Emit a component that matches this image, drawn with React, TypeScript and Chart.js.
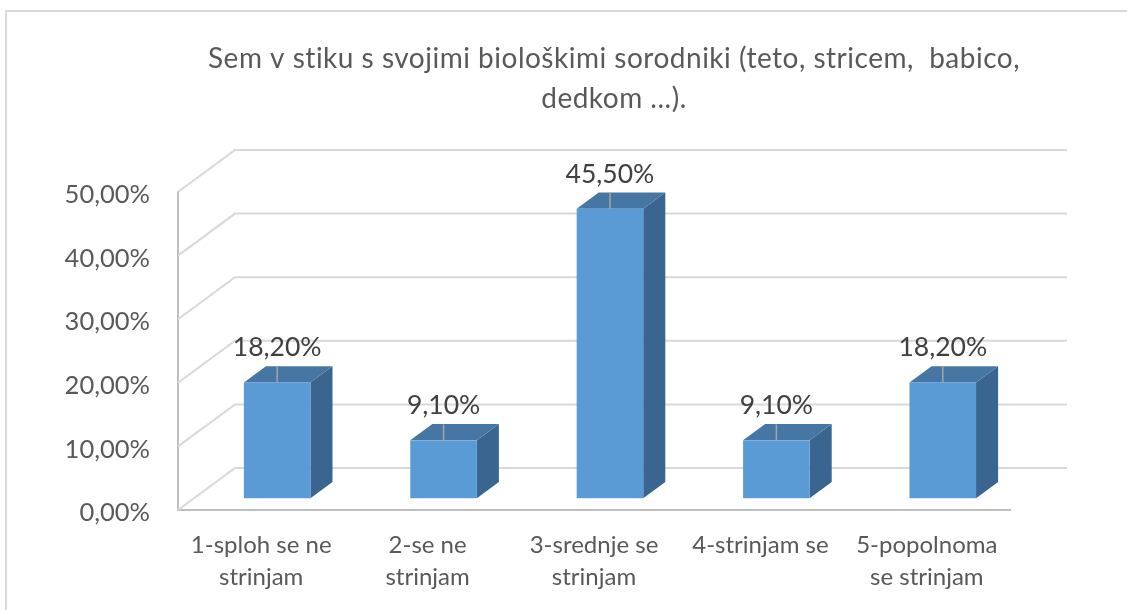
import { useEffect, useRef } from 'react';
import { Chart, registerables } from 'chart.js';

Chart.register(...registerables);

const TITLE_LINES = [
  'Sem v stiku s svojimi biološkimi sorodniki (teto, stricem,  babico,',
  'dedkom ...).',
];
const CATEGORIES: string[][] = [
  ['1-sploh se ne', 'strinjam'],
  ['2-se ne', 'strinjam'],
  ['3-srednje se', 'strinjam'],
  ['4-strinjam se'],
  ['5-popolnoma', 'se strinjam'],
];
const VALUES = [18.2, 9.1, 45.5, 9.1, 18.2];
const Y_MIN = 0;
const Y_MAX = 50;
const Y_STEP = 10;

// style constants
const FONT = 'Lato, "Open Sans", sans-serif';
const DEPTH_X = 57;
const DEPTH_Y = 42;
const BAR_FRONT = 0.28;
const BAR_BACK = 0.667;
const FRONT_COLOR = '#5b9bd5';
const TOP_COLOR = '#4676a4';
const SIDE_COLOR = '#3a6590';
const GRID_COLOR = '#d9d9d9';
const AXIS_COLOR = '#bfbfbf';
const TEXT_COLOR = '#595959';
const LABEL_COLOR = '#404040';

const fmt = (v: number) => v.toFixed(2).replace('.', ',') + '%';

const depthPlugin = {
  id: 'depth3d',
  beforeDraw(chart: any) {
    const { ctx, width, height } = chart;
    ctx.save();
    ctx.fillStyle = '#ffffff';
    ctx.fillRect(0, 0, width, height);
    // outer chart border
    ctx.strokeStyle = GRID_COLOR;
    ctx.lineWidth = 2;
    ctx.beginPath();
    ctx.moveTo(6, height + 2);
    ctx.lineTo(6, 11);
    ctx.lineTo(width + 2, 11);
    ctx.stroke();
    // title
    ctx.fillStyle = TEXT_COLOR;
    ctx.font = `28px ${FONT}`;
    try {
      (ctx as any).letterSpacing = '0.5px';
    } catch (e) {}
    ctx.textAlign = 'center';
    ctx.textBaseline = 'alphabetic';
    TITLE_LINES.forEach((line, i) => {
      ctx.fillText(line, 614, 68 + i * 40);
    });
    ctx.restore();
  },
  beforeDatasetsDraw(chart: any) {
    const { ctx, chartArea: a, scales } = chart;
    const ys = scales.y;
    ctx.save();
    ctx.strokeStyle = GRID_COLOR;
    ctx.lineWidth = 2;
    ys.ticks.forEach((t: any) => {
      const py = ys.getPixelForValue(t.value);
      ctx.beginPath();
      ctx.moveTo(a.left, py);
      ctx.lineTo(a.left + DEPTH_X, py - DEPTH_Y);
      ctx.lineTo(a.right + DEPTH_X, py - DEPTH_Y);
      ctx.stroke();
    });
    ctx.restore();
  },
  afterDatasetsDraw(chart: any) {
    const { ctx, scales } = chart;
    const ys = scales.y;
    const meta = chart.getDatasetMeta(0);
    const data = chart.data.datasets[0].data as number[];
    const bd = BAR_BACK - BAR_FRONT;
    const bdx = DEPTH_X * bd;
    const bdy = DEPTH_Y * bd;
    ctx.save();
    meta.data.forEach((el: any, i: number) => {
      const { x: cx, width: w } = el.getProps(['x', 'width'], true);
      const v = data[i];
      const yTop = ys.getPixelForValue(v) - DEPTH_Y * BAR_FRONT;
      const yBase = ys.getPixelForValue(0) - DEPTH_Y * BAR_FRONT;
      const fx = cx - w / 2 + DEPTH_X * BAR_FRONT;
      // side face
      ctx.fillStyle = SIDE_COLOR;
      ctx.beginPath();
      ctx.moveTo(fx + w, yTop);
      ctx.lineTo(fx + w + bdx, yTop - bdy);
      ctx.lineTo(fx + w + bdx, yBase - bdy);
      ctx.lineTo(fx + w, yBase);
      ctx.closePath();
      ctx.fill();
      // top face
      ctx.fillStyle = TOP_COLOR;
      ctx.beginPath();
      ctx.moveTo(fx, yTop);
      ctx.lineTo(fx + bdx, yTop - bdy);
      ctx.lineTo(fx + w + bdx, yTop - bdy);
      ctx.lineTo(fx + w, yTop);
      ctx.closePath();
      ctx.fill();
      // front face
      ctx.fillStyle = FRONT_COLOR;
      ctx.fillRect(fx, yTop, w, yBase - yTop);
      // leader line
      const lx = fx + w / 2;
      ctx.strokeStyle = '#a6a6a6';
      ctx.lineWidth = 1.5;
      ctx.beginPath();
      ctx.moveTo(lx, yTop - 16);
      ctx.lineTo(lx, yTop);
      ctx.stroke();
      // data label
      ctx.fillStyle = LABEL_COLOR;
      ctx.font = `26.5px ${FONT}`;
      ctx.textAlign = 'center';
      ctx.textBaseline = 'alphabetic';
      ctx.fillText(fmt(v), lx, yTop - 26);
    });
    ctx.restore();
  },
};

export default function App() {
  const ref = useRef<HTMLCanvasElement | null>(null);
  useEffect(() => {
    if (!ref.current) return;
    const chart = new Chart(ref.current, {
      type: 'bar',
      data: {
        labels: CATEGORIES,
        datasets: [
          {
            data: VALUES,
            backgroundColor: 'rgba(0,0,0,0)',
            borderWidth: 0,
            barPercentage: 0.4,
            categoryPercentage: 1,
          },
        ],
      },
      options: {
        responsive: false,
        animation: false,
        events: [],
        layout: { padding: { top: 192, left: 0, right: 117, bottom: 0 } },
        plugins: { legend: { display: false }, tooltip: { enabled: false }, title: { display: false } },
        scales: {
          x: {
            grid: { display: false, drawTicks: false },
            border: { display: true, color: AXIS_COLOR, width: 2 },
            ticks: {
              color: TEXT_COLOR,
              font: { family: FONT, size: 24, lineHeight: 1.3 },
              padding: 20,
              maxRotation: 0,
              autoSkip: false,
            },
            afterFit: (s: any) => {
              s.height = 100;
            },
          },
          y: {
            min: Y_MIN,
            max: Y_MAX,
            grid: { display: false, drawTicks: false },
            border: { display: true, color: AXIS_COLOR, width: 2 },
            ticks: {
              stepSize: Y_STEP,
              color: TEXT_COLOR,
              font: { family: FONT, size: 25.5 },
              padding: 28,
              labelOffset: 3,
              callback: (v: any) => fmt(Number(v)),
            },
            afterFit: (s: any) => {
              s.width = 178;
            },
          },
        },
      },
      plugins: [depthPlugin],
    });
    return () => chart.destroy();
  }, []);
  return (
    <div style={{ position: 'fixed', left: 0, top: 0, width: 1127, height: 610, background: '#fff' }}>
      <canvas ref={ref} width={1127} height={610} style={{ display: 'block' }} />
    </div>
  );
}
